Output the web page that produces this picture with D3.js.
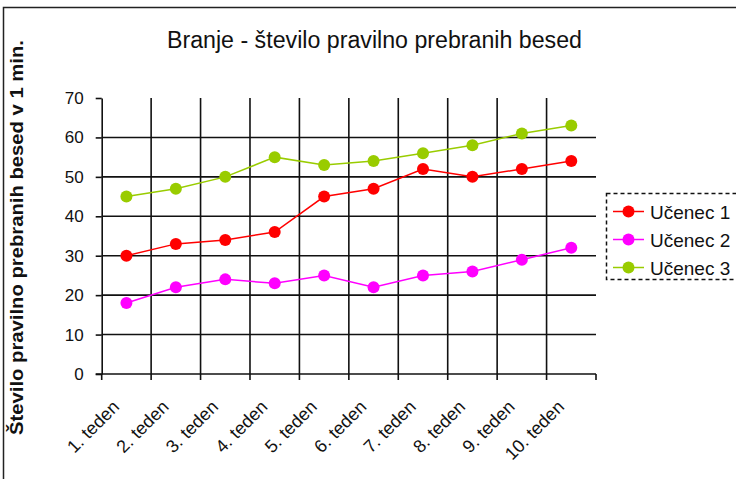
<!DOCTYPE html>
<html><head><meta charset="utf-8">
<script src="https://cdn.jsdelivr.net/npm/d3@7"></script>
<style>body{margin:0;background:#fff}svg{display:block}text{font-family:"Liberation Sans",Arial,sans-serif}</style>
</head><body>
<svg id="c" width="736" height="479"></svg>
<script>
const categories = ["1. teden","2. teden","3. teden","4. teden","5. teden","6. teden","7. teden","8. teden","9. teden","10. teden"];
const seriesNames = ["Učenec 1","Učenec 2","Učenec 3"];
const ucenec1 = [30,33,34,36,45,47,52,50,52,54];
const ucenec2 = [18,22,24,23,25,22,25,26,29,32];
const ucenec3 = [45,47,50,55,53,54,56,58,61,63];
const yTicks = [0,10,20,30,40,50,60,70];
const colors = ["#ff0000","#ff00ff","#99cc00"];
const series = [ucenec1, ucenec2, ucenec3];

const svg = d3.select("#c");
const L = 101.7, R = 596, T = 98, B = 374;
const x = d3.scaleBand().domain(categories).range([L, R]).padding(0);
const y = d3.scaleLinear().domain([0,70]).range([B, T]);

// outer border
svg.append("rect").attr("x",3.5).attr("y",7.5).attr("width",760).attr("height",500)
  .attr("fill","none").attr("stroke","#222").attr("stroke-width",1.5);

// title
svg.append("text").attr("x",(167+582)/2).attr("y",48).attr("text-anchor","middle")
  .attr("font-size",23).attr("textLength",415).attr("lengthAdjust","spacingAndGlyphs")
  .attr("fill","#111").text("Branje - število pravilno prebranih besed");

// y title
svg.append("text").attr("transform","translate(23,"+((40+435)/2)+") rotate(-90)")
  .attr("text-anchor","middle").attr("font-size",19).attr("font-weight","bold")
  .attr("textLength",395).attr("lengthAdjust","spacingAndGlyphs")
  .attr("fill","#111").text("Število pravilno prebranih besed v 1 min.");

const grid = svg.append("g").attr("stroke","#111").attr("stroke-width",1.6);
// horizontal gridlines
grid.selectAll("line.h").data(yTicks.filter(v=>v>0&&v<70)).join("line")
  .attr("x1",L).attr("x2",R).attr("y1",d=>y(d)).attr("y2",d=>y(d));
// vertical gridlines at category boundaries
grid.selectAll("line.v").data(categories.slice(1)).join("line")
  .attr("x1",d=>x(d)).attr("x2",d=>x(d)).attr("y1",T).attr("y2",B);

// y axis
const yAxis = svg.append("g").attr("transform","translate("+L+",0)")
  .call(d3.axisLeft(y).tickValues(yTicks).tickSize(6).tickSizeOuter(0).tickPadding(12));
yAxis.select(".domain").attr("stroke","#111").attr("stroke-width",1.6);
yAxis.selectAll(".tick line").attr("stroke","#111").attr("stroke-width",1.6);
yAxis.selectAll(".tick text").attr("font-size",17).attr("fill","#111")
  .attr("font-family","Liberation Sans, Arial, sans-serif");

// x axis line and boundary ticks
const xa = svg.append("g").attr("stroke","#111").attr("stroke-width",1.6);
xa.append("line").attr("x1",L-6).attr("x2",R).attr("y1",B).attr("y2",B);
const bounds = categories.map(c=>x(c)).concat([x(categories[categories.length-1])+x.bandwidth()]);
xa.selectAll("line.t").data(bounds).join("line")
  .attr("x1",d=>d).attr("x2",d=>d).attr("y1",B).attr("y2",B+6);

// x labels
svg.append("g").selectAll("text").data(categories).join("text")
  .attr("transform",d=>"translate("+(x(d)+x.bandwidth()/2-6)+","+(B+34)+") rotate(-45)")
  .attr("text-anchor","end").attr("font-size",18).attr("fill","#111").text(d=>d);

// series
const line = d3.line().x((d,i)=>x(categories[i])+x.bandwidth()/2).y(d=>y(d));
series.forEach((s,k)=>{
  svg.append("path").datum(s).attr("d",line).attr("fill","none")
    .attr("stroke",colors[k]).attr("stroke-width",1.5);
  svg.append("g").selectAll("circle").data(s).join("circle")
    .attr("cx",(d,i)=>x(categories[i])+x.bandwidth()/2).attr("cy",d=>y(d))
    .attr("r",6).attr("fill",colors[k]);
});

// legend
const lg = svg.append("g");
lg.append("rect").attr("x",606.5).attr("y",193.5).attr("width",150).attr("height",86)
  .attr("fill","#fff").attr("stroke","#111").attr("stroke-width",1.5).attr("stroke-dasharray","4,3");
seriesNames.forEach((n,k)=>{
  const yy = 211.5 + k*28;
  lg.append("line").attr("x1",613).attr("x2",644).attr("y1",yy).attr("y2",yy)
    .attr("stroke",colors[k]).attr("stroke-width",1.5);
  lg.append("circle").attr("cx",628.5).attr("cy",yy).attr("r",6).attr("fill",colors[k]);
  lg.append("text").attr("x",650).attr("y",yy+7).attr("font-size",19).attr("fill","#111").text(n);
});
</script>
</body></html>
